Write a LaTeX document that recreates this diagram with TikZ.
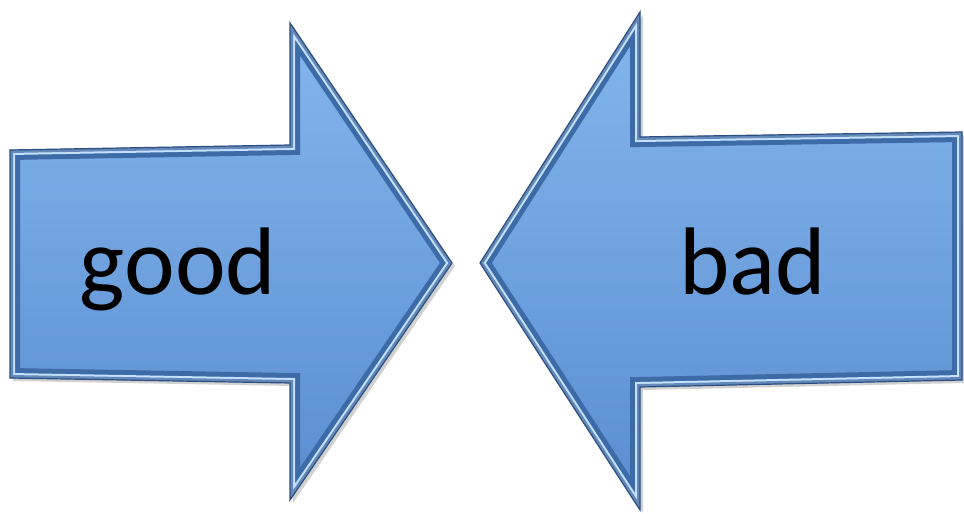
\documentclass[tikz,border=0pt]{standalone}
\usepackage{fontspec}
\setmainfont{Carlito}
\definecolor{arrowtop}{HTML}{84B7EE}
\definecolor{arrowbot}{HTML}{5A8CD0}
\definecolor{bevel}{HTML}{3D6BA8}
\definecolor{rim}{HTML}{2C4F80}
\definecolor{gloss}{HTML}{C4E2FF}
% outlines of the two arrows
\newcommand{\goodpath}{(10,364) -- (290,369) -- (290,491) -- (452,251) -- (290,14) -- (290,131) -- (10,136) -- cycle}
\newcommand{\badpath}{(480,251) -- (640,502) -- (640,377) -- (962,382) -- (962,134) -- (640,127) -- (640,4) -- cycle}

\begin{document}
\begin{tikzpicture}[x=1pt, y=1pt, line join=miter,
  shadowfill/.style={fill=black, opacity=0.18},
  body/.style={top color=arrowtop, bottom color=arrowbot},
  word/.style={anchor=base, font=\fontsize{96}{100}\selectfont, text=black}]
\useasboundingbox (0,0) rectangle (964,514);
% schatten
\fill[shadowfill, xshift=3, yshift=-3] \goodpath;
\fill[shadowfill, xshift=3, yshift=-3] \badpath;
% linker pfeil
\begin{scope}
\clip \goodpath;
\shade[body] \goodpath;
\draw[line width=20, bevel] \goodpath;
\draw[line width=10, gloss] \goodpath;
\draw[line width=6, bevel!80] \goodpath;
\end{scope}
\draw[line width=1.2, rim] \goodpath;
% rechter pfeil
\begin{scope}
\clip \badpath;
\shade[body] \badpath;
\draw[line width=20, bevel] \badpath;
\draw[line width=10, gloss] \badpath;
\draw[line width=6, bevel!80] \badpath;
\end{scope}
\draw[line width=1.2, rim] \badpath;
% beschriftung
\node[word] (good) at (178,219) {good};
\node[word] (bad) at (753,219) {bad};
\end{tikzpicture}
\end{document}
